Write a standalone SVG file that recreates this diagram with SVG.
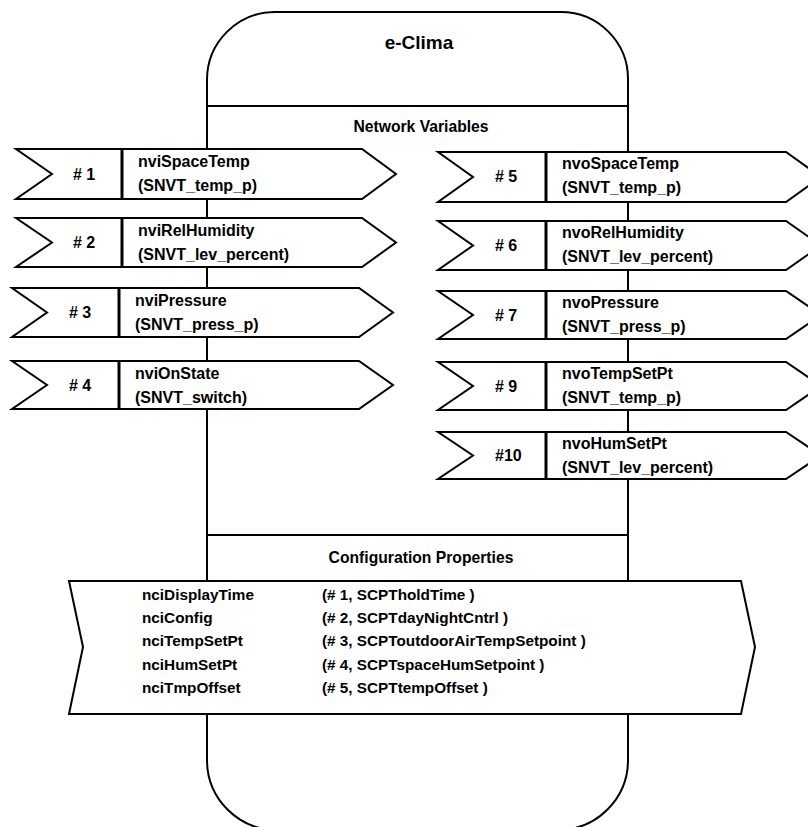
<svg xmlns="http://www.w3.org/2000/svg" width="808" height="827" viewBox="0 0 808 827">
<style>
.ln{fill:none;stroke:#000;stroke-width:2}
.sh{fill:#fff;stroke:#000;stroke-width:2;stroke-linejoin:miter}
.dv{stroke:#000;stroke-width:3}
text{font-family:"Liberation Sans",Arial,sans-serif;font-weight:bold;fill:#000}
.lb{font-size:16px}
.nm{font-size:16px}
.cf{font-size:15.3px}
.hd{font-size:15.7px;text-anchor:middle}
.tt{font-size:19px;text-anchor:middle}
</style>
<rect width="808" height="827" fill="#fff"/>
<g id="device">
<path class="ln" d="M207,80 A68,68 0 0 1 275,12 L561,12 A67,67 0 0 1 628,79 L628,760 A70,70 0 0 1 558,830 L277,830 A70,70 0 0 1 207,760 Z"/>
<line class="ln" x1="207" y1="106" x2="628" y2="106"/>
<line class="ln" x1="207" y1="535" x2="628" y2="535"/>
<text class="tt" x="419" y="49">e-Clima</text>
<text class="hd" x="421" y="132">Network Variables</text>
<text class="hd" x="421" y="563">Configuration Properties</text>
</g>
<g id="connectors"></g>
<g id="nv1">
<polygon class="sh" points="16,149 362,149 396,174 362,199 16,199 52,174"/>
<line class="dv" x1="122" y1="149" x2="122" y2="199"/>
<text class="nm" x="73" y="180">#&#160;1</text>
<text class="lb" x="138" y="167">nviSpaceTemp</text>
<text class="lb" x="138" y="191">(SNVT_temp_p)</text>
</g>
<g id="nv2">
<polygon class="sh" points="16,218 362,218 396,242.5 362,267 16,267 52,242.5"/>
<line class="dv" x1="122" y1="218" x2="122" y2="267"/>
<text class="nm" x="73" y="248">#&#160;2</text>
<text class="lb" x="138" y="236">nviRelHumidity</text>
<text class="lb" x="138" y="260">(SNVT_lev_percent)</text>
</g>
<g id="nv3">
<polygon class="sh" points="12,288 359,288 393,312.5 359,337 12,337 47,312.5"/>
<line class="dv" x1="119" y1="288" x2="119" y2="337"/>
<text class="nm" x="69" y="318">#&#160;3</text>
<text class="lb" x="135" y="306">nviPressure</text>
<text class="lb" x="135" y="330">(SNVT_press_p)</text>
</g>
<g id="nv4">
<polygon class="sh" points="12,361 359,361 393,385 359,409 12,409 47,385"/>
<line class="dv" x1="119" y1="361" x2="119" y2="409"/>
<text class="nm" x="69" y="391">#&#160;4</text>
<text class="lb" x="135" y="379">nviOnState</text>
<text class="lb" x="135" y="403">(SNVT_switch)</text>
</g>
<g id="nv5">
<polygon class="sh" points="438,152 786,152 821,177 786,202 438,202 473,177"/>
<line class="dv" x1="546" y1="152" x2="546" y2="202"/>
<text class="nm" x="495" y="182">#&#160;5</text>
<text class="lb" x="562" y="169">nvoSpaceTemp</text>
<text class="lb" x="562" y="193">(SNVT_temp_p)</text>
</g>
<g id="nv6">
<polygon class="sh" points="438,221 786,221 821,245.5 786,270 438,270 473,245.5"/>
<line class="dv" x1="546" y1="221" x2="546" y2="270"/>
<text class="nm" x="495" y="251">#&#160;6</text>
<text class="lb" x="562" y="238">nvoRelHumidity</text>
<text class="lb" x="562" y="262">(SNVT_lev_percent)</text>
</g>
<g id="nv7">
<polygon class="sh" points="438,291 786,291 821,315 786,339 438,339 473,315"/>
<line class="dv" x1="546" y1="291" x2="546" y2="339"/>
<text class="nm" x="495" y="321">#&#160;7</text>
<text class="lb" x="562" y="308">nvoPressure</text>
<text class="lb" x="562" y="332">(SNVT_press_p)</text>
</g>
<g id="nv9">
<polygon class="sh" points="438,362 786,362 821,386 786,410 438,410 473,386"/>
<line class="dv" x1="546" y1="362" x2="546" y2="410"/>
<text class="nm" x="495" y="392">#&#160;9</text>
<text class="lb" x="562" y="379">nvoTempSetPt</text>
<text class="lb" x="562" y="403">(SNVT_temp_p)</text>
</g>
<g id="nv10">
<polygon class="sh" points="438,432 786,432 821,455.5 786,479 438,479 473,455.5"/>
<line class="dv" x1="546" y1="432" x2="546" y2="479"/>
<text class="nm" x="495" y="461">#10</text>
<text class="lb" x="562" y="449">nvoHumSetPt</text>
<text class="lb" x="562" y="473">(SNVT_lev_percent)</text>
</g>
<g id="config">
<polygon class="sh" points="69,581 741,581 755,647 741,714 69,714 83,647"/>
<text class="cf" x="142" y="600">nciDisplayTime</text>
<text class="cf" x="142" y="623">nciConfig</text>
<text class="cf" x="142" y="646">nciTempSetPt</text>
<text class="cf" x="142" y="670">nciHumSetPt</text>
<text class="cf" x="142" y="693">nciTmpOffset</text>
<text class="cf" x="322" y="600">(# 1, SCPTholdTime )</text>
<text class="cf" x="322" y="623">(# 2, SCPTdayNightCntrl )</text>
<text class="cf" x="322" y="646">(# 3, SCPToutdoorAirTempSetpoint )</text>
<text class="cf" x="322" y="670">(# 4, SCPTspaceHumSetpoint )</text>
<text class="cf" x="322" y="693">(# 5, SCPTtempOffset )</text>
</g>
</svg>
